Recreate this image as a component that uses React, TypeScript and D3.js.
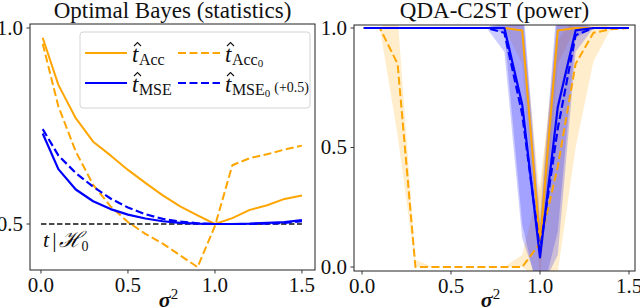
import React from 'react';
import * as d3 from 'd3';

const W = 640;
const H = 308;
const ORANGE = '#ffa500';
const BLUE = '#0000ff';
const SERIF = "'Liberation Serif'";
const INK = '#111';

// σ² grid shared by both panels
const sigma2 = [0.01, 0.1, 0.2, 0.3, 0.4, 0.5, 0.6, 0.7, 0.8, 0.9, 1.0, 1.1, 1.2, 1.3, 1.4, 1.5];

/* ── Left panel: optimal Bayes statistics ─────────────────────────── */
const tAcc  = [0.975, 0.855, 0.77, 0.71, 0.675, 0.638, 0.605, 0.573, 0.545, 0.522, 0.5, 0.515, 0.536, 0.548, 0.564, 0.573];
const tAcc0 = [0.96, 0.8, 0.685, 0.6, 0.545, 0.505, 0.475, 0.45, 0.42, 0.39, 0.495, 0.65, 0.668, 0.678, 0.69, 0.70];
const tMSE  = [0.731, 0.64, 0.588, 0.558, 0.538, 0.524, 0.514, 0.507, 0.503, 0.501, 0.5, 0.5, 0.501, 0.503, 0.505, 0.51];
const tMSE0 = [0.742, 0.675, 0.63, 0.595, 0.565, 0.542, 0.525, 0.513, 0.506, 0.502, 0.5, 0.5, 0.5, 0.501, 0.503, 0.507];
const nullX = [0.0, 1.5];
const nullT = [0.5, 0.5];

/* ── Right panel: QDA-C2ST power (mean + band) ───────────────────── */
const powAcc   = [1, 1, 1, 1, 1, 1, 1, 1, 1, 0.99, 0.1, 0.99, 1, 1, 1, 1];
const powAccLo = [1, 1, 1, 1, 1, 1, 1, 1, 1, 0.85, -0.05, 0.85, 1, 1, 1, 1];
const powAccHi = [1, 1, 1, 1, 1, 1, 1, 1, 1, 1.05, 0.3, 1.05, 1, 1, 1, 1];

const powAcc0   = [1, 1, 0.85, 0, 0, 0, 0, 0, 0, 0, 0.1, 0.42, 0.85, 0.98, 0.995, 1];
const powAcc0Lo = [1, 1, 0.55, 0, 0, 0, 0, 0, 0, 0, -0.05, -0.02, 0.5, 0.86, 1, 1];
const powAcc0Hi = [1, 1, 1.05, 0.03, 0, 0, 0, 0, 0, 0.05, 0.35, 0.95, 1.05, 1.05, 1, 1];

const powMSE   = [1, 1, 1, 1, 1, 1, 1, 1, 1, 0.68, 0.04, 0.67, 0.99, 1, 1, 1];
const powMSELo = [1, 1, 1, 1, 1, 1, 1, 1, 0.98, 0.18, -0.15, 0.15, 0.96, 1, 1, 1];
const powMSEHi = [1, 1, 1, 1, 1, 1, 1, 1, 1.02, 1.15, 0.2, 1.15, 1.02, 1, 1, 1];

const powMSE0   = [1, 1, 1, 1, 1, 1, 1, 1, 0.98, 0.64, 0.07, 0.58, 0.97, 1, 1, 1];
const powMSE0Lo = [1, 1, 1, 1, 1, 1, 1, 1, 0.9, 0.12, -0.1, 0.05, 0.9, 1, 1, 1];
const powMSE0Hi = [1, 1, 1, 1, 1, 1, 1, 1, 1.04, 1.1, 0.15, 1.08, 1.04, 1, 1, 1];

const xTicks = [0.0, 0.5, 1.0, 1.5];
const yTicksLeft = [0.5, 1.0];
const yTicksRight = [0.0, 0.5, 1.0];

type Lin = d3.ScaleLinear<number, number>;
const fmt = d3.format('.1f');

const xL = d3.scaleLinear().domain([-0.063, 1.575]).range([30, 315]);
const yL = d3.scaleLinear().domain([0.3827, 1.0102]).range([270, 24]);
const xR = d3.scaleLinear().domain([-0.045, 1.5337]).range([354, 635]);
const yR = d3.scaleLinear().domain([-0.0167, 1.0126]).range([271, 25]);

const linePath = (x: Lin, y: Lin, xs: number[], ys: number[]) =>
  d3.line<number>().x((_, i) => x(xs[i])).y(d => y(d))(ys) || '';

const bandPath = (x: Lin, y: Lin, lo: number[], hi: number[]) =>
  d3.area<number>().x((_, i) => x(sigma2[i])).y0((_, i) => y(lo[i])).y1(d => y(d))(hi) || '';

const Series: React.FC<{ x: Lin; y: Lin; ys: number[]; color: string; dashed?: boolean; w?: number }> = ({
  x, y, ys, color, dashed, w = 2,
}) => (
  <path
    d={linePath(x, y, sigma2, ys)}
    fill="none"
    stroke={color}
    strokeWidth={w}
    strokeLinejoin="round"
    strokeDasharray={dashed ? '8,3.5' : undefined}
  />
);

const Panel: React.FC<{ id: string; x: Lin; y: Lin; yTicks: number[]; title: string; children: React.ReactNode }> = ({
  id, x, y, yTicks, title, children,
}) => {
  const [x0, x1] = x.range();
  const [y0, y1] = y.range();
  const cx = (x0 + x1) / 2;
  return (
    <g>
      <defs>
        <clipPath id={id}>
          <rect x={x0} y={y1} width={x1 - x0} height={y0 - y1} />
        </clipPath>
      </defs>
      <g clipPath={`url(#${id})`}>{children}</g>
      <rect x={x0} y={y1} width={x1 - x0} height={y0 - y1} fill="none" stroke="#222" strokeWidth={1} />
      {xTicks.map(t => (
        <g key={`x${t}`} transform={`translate(${x(t)},${y0})`}>
          <line y2={3.5} stroke="#222" strokeWidth={0.9} />
          <text y={7.5} dy="0.71em" textAnchor="middle" fontSize={21} fill={INK} style={{ fontFamily: SERIF }}>
            {fmt(t)}
          </text>
        </g>
      ))}
      {yTicks.map(t => (
        <g key={`y${t}`} transform={`translate(${x0},${y(t)})`}>
          <line x2={-3.5} stroke="#222" strokeWidth={0.9} />
          <text x={-7} dy="0.32em" textAnchor="end" fontSize={21} fill={INK} style={{ fontFamily: SERIF }}>
            {fmt(t)}
          </text>
        </g>
      ))}
      <text x={cx} y={18} textAnchor="middle" fontSize={23} fill={INK} style={{ fontFamily: SERIF }}>
        {title}
      </text>
      <text x={cx - 4} y={307} textAnchor="middle" fill={INK} style={{ fontFamily: SERIF }}>
        <tspan fontSize={22} fontStyle="italic" fontWeight="bold">σ</tspan>
        <tspan fontSize={15} dy={-8}>2</tspan>
      </text>
    </g>
  );
};

const legendEntries = [
  { col: 0, row: 0, color: ORANGE, dashed: false, sub: 'Acc', zero: false, extra: '' },
  { col: 1, row: 0, color: ORANGE, dashed: true, sub: 'Acc', zero: true, extra: '' },
  { col: 0, row: 1, color: BLUE, dashed: false, sub: 'MSE', zero: false, extra: '' },
  { col: 1, row: 1, color: BLUE, dashed: true, sub: 'MSE', zero: true, extra: '(+0.5)' },
];

const Legend: React.FC = () => (
  <g>
    <rect x={80} y={32} width={230} height={76} rx={3} fill="#fff" fillOpacity={0.85} stroke="#d4d4d4" strokeWidth={1} />
    {legendEntries.map((e, i) => {
      const lx = e.col === 0 ? 85 : 178;
      const ly = e.row === 0 ? 53 : 83;
      const tx = lx + 47;
      const base = ly + 9;
      return (
        <g key={i}>
          <line x1={lx} x2={lx + 42} y1={ly} y2={ly} stroke={e.color} strokeWidth={2}
            strokeDasharray={e.dashed ? '8,3.5' : undefined} />
          <text x={tx} y={base} fontSize={23} fill={INK} style={{ fontFamily: SERIF }}>
            <tspan fontStyle="italic">t</tspan>
            <tspan fontSize={16} dy={3} dx={0.5}>{e.sub}</tspan>
            {e.zero && <tspan fontSize={11} dy={2}>0</tspan>}
            {e.extra && <tspan fontSize={14} dy={e.zero ? -5 : -3} dx={4}>{e.extra}</tspan>}
          </text>
          <path d={`M${tx + 2},${base - 16} L${tx + 5.5},${base - 19.5} L${tx + 9},${base - 16}`}
            fill="none" stroke={INK} strokeWidth={1.1} />
        </g>
      );
    })}
  </g>
);

export default function App() {
  return (
    <svg width={W} height={H} style={{ position: 'absolute', left: 0, top: 0, background: '#fff' }}>
      <Panel id="clipL" x={xL} y={yL} yTicks={yTicksLeft} title="Optimal Bayes (statistics)">
        <path d={linePath(xL, yL, nullX, nullT)} fill="none" stroke={INK} strokeWidth={1.5} strokeDasharray="5.5,2.5" />
        <Series x={xL} y={yL} ys={tAcc} color={ORANGE} />
        <Series x={xL} y={yL} ys={tAcc0} color={ORANGE} dashed />
        <Series x={xL} y={yL} ys={tMSE} color={BLUE} w={2.2} />
        <Series x={xL} y={yL} ys={tMSE0} color={BLUE} dashed w={2.2} />
      </Panel>

      <text x={43} y={247} fontSize={22} fill={INK} style={{ fontFamily: SERIF }}>
        <tspan fontStyle="italic">t</tspan>
        <tspan dx={3}>|</tspan>
        <tspan dx={2} fontStyle="italic">ℋ</tspan>
        <tspan fontSize={14} dy={4}>0</tspan>
      </text>
      <Legend />

      <Panel id="clipR" x={xR} y={yR} yTicks={yTicksRight} title="QDA-C2ST (power)">
        <path d={bandPath(xR, yR, powAccLo, powAccHi)} fill={ORANGE} fillOpacity={0.2} />
        <path d={bandPath(xR, yR, powAcc0Lo, powAcc0Hi)} fill={ORANGE} fillOpacity={0.2} />
        <path d={bandPath(xR, yR, powMSELo, powMSEHi)} fill={BLUE} fillOpacity={0.2} />
        <path d={bandPath(xR, yR, powMSE0Lo, powMSE0Hi)} fill={BLUE} fillOpacity={0.2} />
        <Series x={xR} y={yR} ys={powAcc} color={ORANGE} />
        <Series x={xR} y={yR} ys={powAcc0} color={ORANGE} dashed />
        <Series x={xR} y={yR} ys={powMSE} color={BLUE} w={2.2} />
        <Series x={xR} y={yR} ys={powMSE0} color={BLUE} dashed w={2.2} />
      </Panel>
    </svg>
  );
}
